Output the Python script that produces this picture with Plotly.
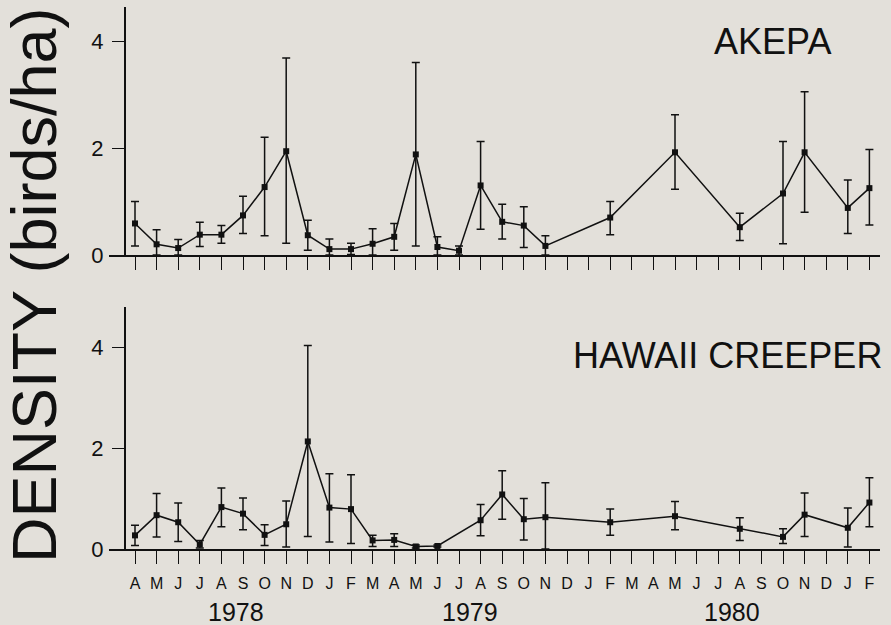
import plotly.graph_objects as go

# ---------------- data ----------------
month_labels = ["A", "M", "J", "J", "A", "S", "O", "N", "D",
                "J", "F", "M", "A", "M", "J", "J", "A", "S", "O", "N", "D",
                "J", "F", "M", "A", "M", "J", "J", "A", "S", "O", "N", "D",
                "J", "F"]
month_pos = list(range(len(month_labels)))
year_labels = ["1978", "1979", "1980"]
year_pos = [4.68, 15.5, 27.65]

akepa_x = [0, 1, 2, 3, 4, 5, 6, 7, 8, 9, 10, 11, 12, 13, 14, 15, 16, 17, 18, 19,
           22, 25, 28, 30, 31, 33, 34]
akepa_mean = [0.59, 0.20, 0.13, 0.38, 0.38, 0.74, 1.27, 1.94, 0.37, 0.11, 0.11, 0.21, 0.34, 1.88,
              0.15, 0.08, 1.30, 0.62, 0.55, 0.17, 0.70, 1.92, 0.52, 1.15, 1.92, 0.88, 1.25]
akepa_upper = [1.00, 0.47, 0.29, 0.61, 0.55, 1.10, 2.20, 3.68, 0.65, 0.30, 0.22, 0.49, 0.59, 3.60,
               0.34, 0.17, 2.12, 0.95, 0.90, 0.36, 1.00, 2.62, 0.78, 2.12, 3.05, 1.40, 1.97]
akepa_lower = [0.17, 0.00, 0.00, 0.16, 0.22, 0.40, 0.36, 0.22, 0.09, 0.00, 0.01, 0.00, 0.09, 0.17,
               0.00, 0.00, 0.48, 0.30, 0.14, 0.00, 0.38, 1.23, 0.27, 0.21, 0.80, 0.40, 0.56]

creeper_x = [0, 1, 2, 3, 4, 5, 6, 7, 8, 9, 10, 11, 12, 13, 14,
             16, 17, 18, 19, 22, 25, 28, 30, 31, 33, 34]
creeper_mean = [0.27, 0.67, 0.53, 0.09, 0.83, 0.70, 0.28, 0.49, 2.13, 0.82, 0.79, 0.17, 0.18, 0.05,
                0.06, 0.57, 1.08, 0.59, 0.63, 0.53, 0.65, 0.40, 0.24, 0.68, 0.42, 0.92]
creeper_upper = [0.47, 1.10, 0.91, 0.17, 1.21, 1.01, 0.48, 0.95, 4.03, 1.49, 1.47, 0.27, 0.30, 0.08,
                 0.08, 0.88, 1.55, 1.00, 1.31, 0.79, 0.94, 0.62, 0.40, 1.11, 0.81, 1.41]
creeper_lower = [0.07, 0.24, 0.15, 0.02, 0.44, 0.38, 0.07, 0.04, 0.25, 0.14, 0.11, 0.05, 0.05, 0.02,
                 0.04, 0.26, 0.59, 0.18, 0.00, 0.27, 0.38, 0.17, 0.11, 0.25, 0.04, 0.44]

# ---------------- figure ----------------
BG = "#e3e0da"
INK = "#111111"
FONT = "Liberation Sans, Arial, Helvetica, sans-serif"

W, H = 891, 625
ML, MR, MT, MB = 109, 11, 7, 76
PW = W - ML - MR
PH = H - MT - MB


def px_x(p):
    return (p - ML) / PW


def px_y(p):
    return (H - MB - p) / PH


def trace(x, mean, upper, lower, xa, ya):
    return go.Scatter(
        x=x, y=mean, xaxis=xa, yaxis=ya, mode="lines+markers",
        line=dict(color=INK, width=1.5),
        marker=dict(symbol="square", size=6, color=INK),
        error_y=dict(type="data", symmetric=False,
                     array=[u - m for u, m in zip(upper, mean)],
                     arrayminus=[m - l for m, l in zip(mean, lower)],
                     color=INK, thickness=1.5, width=4),
        cliponaxis=False, showlegend=False, hoverinfo="skip")


fig = go.Figure()
fig.add_trace(trace(akepa_x, akepa_mean, akepa_upper, akepa_lower, "x", "y"))
fig.add_trace(trace(creeper_x, creeper_mean, creeper_upper, creeper_lower, "x2", "y2"))

x0 = (ML - 135) / 21.6
x1 = x0 + PW / 21.6
yaxis_pos = px_x(125)

xcommon = dict(range=[x0, x1], showgrid=False, zeroline=False, showline=True,
               linecolor=INK, linewidth=2, ticks="outside", ticklen=13, tickwidth=1.3,
               tickcolor=INK, tickvals=month_pos, domain=[0, 1])
ycommon = dict(showgrid=False, zeroline=False, showline=True, linecolor=INK, linewidth=2,
               ticks="outside", ticklen=12, tickwidth=1.3, tickcolor=INK,
               tickvals=[0, 2, 4], ticktext=["0", "2", "4"],
               tickfont=dict(size=22, color=INK, family=FONT), ticklabelstandoff=4,
               anchor="free", position=yaxis_pos)

fig.update_layout(
    width=W, height=H,
    margin=dict(l=ML, r=MR, t=MT, b=MB),
    paper_bgcolor=BG, plot_bgcolor=BG,
    font=dict(family=FONT, color=INK),
    xaxis=dict(xcommon, anchor="y", showticklabels=False),
    xaxis2=dict(xcommon, anchor="y2", ticktext=month_labels, showticklabels=True,
                tickfont=dict(size=16, color=INK, family=FONT), ticklabelstandoff=6),
    yaxis=dict(ycommon, domain=[px_y(255), 1], range=[0, 248 / 53.5]),
    yaxis2=dict(ycommon, domain=[0, px_y(307)], range=[0, 242 / 50.5]),
)

annotations = []
for lab, pos in zip(year_labels, year_pos):
    annotations.append(dict(text=lab, x=pos, xref="x2", y=px_y(612), yref="paper",
                            showarrow=False, xanchor="center", yanchor="middle",
                            font=dict(size=25, color=INK, family=FONT)))
annotations.append(dict(text="AKEPA", x=px_x(833), y=px_y(41), xref="paper", yref="paper",
                        showarrow=False, xanchor="right", yanchor="middle",
                        font=dict(size=36, color=INK, family=FONT)))
annotations.append(dict(text="HAWAII CREEPER", x=px_x(884), y=px_y(355), xref="paper",
                        yref="paper", showarrow=False, xanchor="right", yanchor="middle",
                        font=dict(size=36, color=INK, family=FONT)))
annotations.append(dict(text="DENSITY (birds/ha)", x=px_x(34), y=px_y(285), xref="paper",
                        yref="paper", showarrow=False, xanchor="center", yanchor="middle",
                        textangle=-90, font=dict(size=63, color=INK, family=FONT)))
fig.update_layout(annotations=annotations)

fig.write_html("out.html",
               config={"displayModeBar": False},
               post_script="document.body.style.margin='0';"
                           "document.body.style.padding='0';"
                           "document.body.style.background='" + BG + "';")
